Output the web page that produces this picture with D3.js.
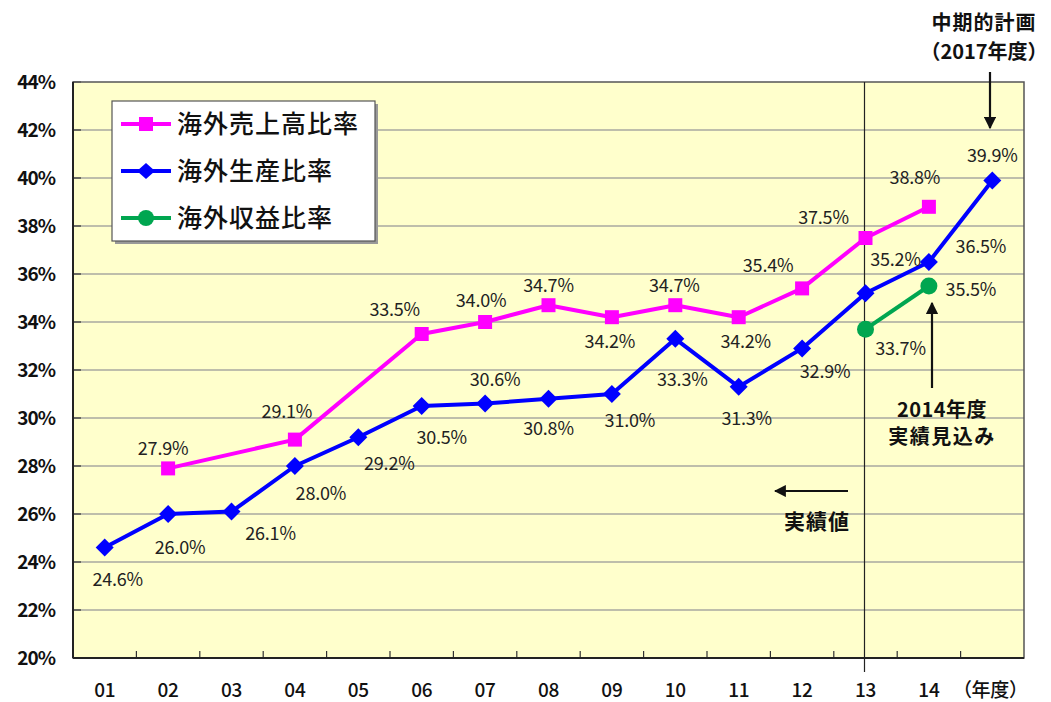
<!DOCTYPE html>
<html><head><meta charset="utf-8">
<script src="https://cdn.jsdelivr.net/npm/d3@7"></script>
<style>
html,body{margin:0;padding:0;background:#fff;}
svg{display:block;font-family:"Noto Sans CJK JP","Noto Sans",sans-serif;}
</style></head>
<body><svg id="c" width="1051" height="702"></svg>
<script>
// ---- data ----
const categories = ["01","02","03","04","05","06","07","08","09","10","11","12","13","14","17"];
const tickLabels = ["01","02","03","04","05","06","07","08","09","10","11","12","13","14","（年度）"];
const salesRatio  = [null,27.9,null,29.1,null,33.5,34.0,34.7,34.2,34.7,34.2,35.4,37.5,38.8,null];
const prodRatio   = [24.6,26.0,26.1,28.0,29.2,30.5,30.6,30.8,31.0,33.3,31.3,32.9,35.2,36.5,39.9];
const profitRatio = [null,null,null,null,null,null,null,null,null,null,null,null,33.7,35.5,null];
const yTicks = [20,22,24,26,28,30,32,34,36,38,40,42,44];
const seriesNames = ["海外売上高比率","海外生産比率","海外収益比率"];

// ---- label placement (style, not data) ----
const salesOff = [null,[-5,-20],null,[-8,-28],null,[-27,-24],[-4,-21],[0,-20],[-2,24],[-1,-20],[7,24],[-34,-23],[-42,-20],[-14,-29],null];
const prodOff  = [[13,32],[12,34],[39,22],[26,28],[31,26],[20,32],[10,-24],[0,30],[18,27],[7,41],[8,32],[23,23],[30,-34],[52,-15],[0,-25]];
const profOff  = [null,null,null,null,null,null,null,null,null,null,null,null,[35,19],[42,4],null];

const svg = d3.select("#c");
const L=73,R=1024,T=82,B=658;
const x = d3.scaleBand().domain(categories).range([L,R]).padding(0);
const y = d3.scaleLinear().domain([20,44]).range([B,T]);
const cx = c => x(c)+x.bandwidth()/2;

// background
svg.append("rect").attr("x",L).attr("y",T).attr("width",R-L).attr("height",B-T).attr("fill","#FFFFCC");
// gridlines
svg.append("g").selectAll("line").data(yTicks.slice(1,-1)).join("line")
  .attr("x1",L).attr("x2",R).attr("y1",d=>y(d)).attr("y2",d=>y(d))
  .attr("stroke","#A8A8A0").attr("stroke-width",1.5);
// y inner ticks
svg.append("g").selectAll("line").data(yTicks).join("line")
  .attr("x1",L).attr("x2",L+8).attr("y1",d=>y(d)).attr("y2",d=>y(d))
  .attr("stroke","#333").attr("stroke-width",1.2);
// x inner ticks at band boundaries
svg.append("g").selectAll("line").data(categories.slice(1)).join("line")
  .attr("x1",d=>x(d)).attr("x2",d=>x(d)).attr("y1",B).attr("y2",B-7)
  .attr("stroke","#333").attr("stroke-width",1.2);
// plot border
svg.append("rect").attr("x",L).attr("y",T).attr("width",R-L).attr("height",B-T)
  .attr("fill","none").attr("stroke","#555").attr("stroke-width",1.5);
svg.append("line").attr("x1",L).attr("x2",R).attr("y1",B).attr("y2",B).attr("stroke","#222").attr("stroke-width",2);
svg.append("line").attr("x1",L).attr("x2",L).attr("y1",T).attr("y2",B).attr("stroke","#222").attr("stroke-width",2);
// vertical divider at 13
svg.append("line").attr("x1",cx("13")-1).attr("x2",cx("13")-1).attr("y1",T).attr("y2",B+14)
  .attr("stroke","#222").attr("stroke-width",1.2);

// y tick labels
svg.append("g").selectAll("text").data(yTicks).join("text")
  .attr("x",55).attr("y",d=>y(d)).attr("dy","0.36em").attr("text-anchor","end")
  .attr("font-size",19).attr("font-weight",700).attr("letter-spacing",-1).attr("fill","#111")
  .text(d=>d+"%");
// x tick labels
svg.append("g").selectAll("text").data(categories).join("text")
  .attr("x",(d,i)=> i===14 ? cx(d)-2 : cx(d)).attr("y",690).attr("dy","0.36em").attr("text-anchor","middle")
  .attr("font-size",19).attr("font-weight",500).attr("fill","#111").attr("letter-spacing",-0.3)
  .text((d,i)=>tickLabels[i]);

// lines
function drawSeries(vals,color,shape){
  const pts = categories.map((c,i)=>({c,v:vals[i],i})).filter(d=>d.v!==null);
  const line = d3.line().x(d=>cx(d.c)).y(d=>y(d.v));
  svg.append("path").datum(pts).attr("d",line).attr("fill","none")
    .attr("stroke",color).attr("stroke-width",4).attr("stroke-linejoin","round");
  const g = svg.append("g");
  pts.forEach(d=>{
    const px=cx(d.c), py=y(d.v);
    if(shape==="square") g.append("rect").attr("x",px-7).attr("y",py-7).attr("width",14).attr("height",14).attr("fill",color);
    else if(shape==="diamond") g.append("path").attr("d",`M${px},${py-9}L${px+9},${py}L${px},${py+9}L${px-9},${py}Z`).attr("fill",color);
    else g.append("circle").attr("cx",px).attr("cy",py).attr("r",8.5).attr("fill",color);
  });
  return pts;
}
const sp = drawSeries(salesRatio,"#FF00FF","square");
const pp = drawSeries(prodRatio,"#0000FF","diamond");
const gp = drawSeries(profitRatio,"#00A650","circle");

function labels(pts,offs){
  svg.append("g").selectAll("text").data(pts).join("text")
    .attr("x",d=>cx(d.c)+offs[d.i][0]).attr("y",d=>y(d.v)+offs[d.i][1]).attr("dy","0.36em")
    .attr("text-anchor","middle").attr("font-size",18).attr("fill","#222").attr("letter-spacing",-0.2)
    .text(d=>d.v.toFixed(1)+"%");
}
labels(sp,salesOff); labels(pp,prodOff); labels(gp,profOff);

// legend
const lg = svg.append("g");
lg.append("rect").attr("x",115).attr("y",104).attr("width",263).attr("height",140).attr("fill","#999");
lg.append("rect").attr("x",112).attr("y",101).attr("width",263).attr("height",140).attr("fill","#fff").attr("stroke","#555").attr("stroke-width",1.2);
const lcol = ["#FF00FF","#0000FF","#00A650"], lshape=["square","diamond","circle"];
seriesNames.forEach((n,i)=>{
  const ly = 124+i*47;
  lg.append("line").attr("x1",121).attr("x2",171).attr("y1",ly).attr("y2",ly).attr("stroke",lcol[i]).attr("stroke-width",4);
  if(lshape[i]==="square") lg.append("rect").attr("x",139).attr("y",ly-7).attr("width",14).attr("height",14).attr("fill",lcol[i]);
  else if(lshape[i]==="diamond") lg.append("path").attr("d",`M146,${ly-8}L155,${ly}L146,${ly+8}L137,${ly}Z`).attr("fill",lcol[i]);
  else lg.append("circle").attr("cx",146).attr("cy",ly).attr("r",8).attr("fill",lcol[i]);
  lg.append("text").attr("x",177).attr("y",ly).attr("dy","0.36em").attr("font-size",25).attr("font-weight",500)
    .attr("letter-spacing",1).attr("fill","#111").text(n);
});

// annotations
const defs = svg.append("defs");
defs.append("marker").attr("id","ah").attr("viewBox","0 0 10 10").attr("refX",9).attr("refY",5)
  .attr("markerWidth",5.5).attr("markerHeight",5.5).attr("orient","auto")
  .append("path").attr("d","M0,0L10,5L0,10Z").attr("fill","#111");
function arrow(x1,y1,x2,y2){
  svg.append("line").attr("x1",x1).attr("y1",y1).attr("x2",x2).attr("y2",y2)
    .attr("stroke","#111").attr("stroke-width",2.2).attr("marker-end","url(#ah)");
}
function txt(t,tx,ty,size,ls){
  svg.append("text").attr("x",tx).attr("y",ty).attr("dy","0.36em").attr("text-anchor","middle")
    .attr("font-size",size).attr("font-weight",700).attr("fill","#111").attr("letter-spacing",ls||0).text(t);
}
txt("中期的計画",984,23,20,1);
txt("（2017年度）",984,52,20,0);
arrow(990,72,990,128);
txt("2014年度",942,410,20,0.5);
txt("実績見込み",942,437,20,1.5);
arrow(932,388,932,303);
arrow(848,491,775,491);
txt("実績値",817,521,21,1);
</script></body></html>
